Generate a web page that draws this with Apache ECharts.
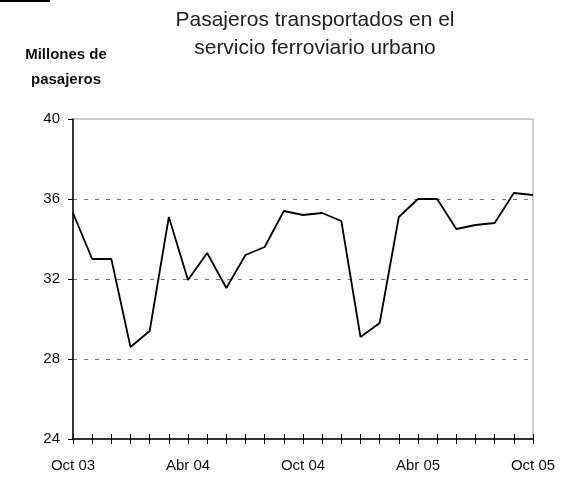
<!DOCTYPE html>
<html>
<head>
<meta charset="utf-8">
<script src="https://cdn.jsdelivr.net/npm/echarts@6/dist/echarts.min.js"></script>
<style>
  html, body { margin: 0; padding: 0; background: #fff; }
  #chart { width: 573px; height: 477px; }
</style>
</head>
<body>
<div id="chart"></div>
<script>
  // 월별 라벨 (Oct 03 → Oct 05)
  const months = [
    'Oct 03', 'Nov 03', 'Dic 03', 'Ene 04', 'Feb 04', 'Mar 04', 'Abr 04',
    'May 04', 'Jun 04', 'Jul 04', 'Ago 04', 'Sep 04', 'Oct 04', 'Nov 04',
    'Dic 04', 'Ene 05', 'Feb 05', 'Mar 05', 'Abr 05', 'May 05', 'Jun 05',
    'Jul 05', 'Ago 05', 'Sep 05', 'Oct 05'
  ];
  // 승객 수 (백만)
  const pasajeros = [
    35.3, 33.0, 33.0, 28.6, 29.4, 35.1, 31.95, 33.3, 31.55, 33.2, 33.6, 35.4, 35.2,
    35.3, 34.9, 29.1, 29.8, 35.1, 36.0, 36.0, 34.5, 34.7, 34.8, 36.3, 36.2
  ];
  const yTicks = [24, 28, 32, 36, 40];

  const FONT = '"Liberation Sans", Arial, sans-serif';
  const chart = echarts.init(document.getElementById('chart'));

  const labelEvery = function (idx) { return idx % 6 === 0; };

  chart.setOption({
    animation: false,
    textStyle: { fontFamily: FONT },
    graphic: [
      { type: 'rect', shape: { x: 0, y: 0, width: 50, height: 2 }, style: { fill: '#000' } },
      {
        type: 'text', x: 315, y: 6,
        style: {
          text: 'Pasajeros transportados en el\nservicio ferroviario urbano',
          textAlign: 'center', font: '21px ' + FONT, fill: '#222', lineHeight: 28
        }
      },
      {
        type: 'text', x: 66, y: 42,
        style: {
          text: 'Millones de\npasajeros', textAlign: 'center',
          font: 'bold 15px ' + FONT, fill: '#111', lineHeight: 25
        }
      }
    ],
    grid: {
      left: 73, right: 40, top: 119, bottom: 38,
      show: true, borderColor: '#999', borderWidth: 1
    },
    xAxis: [
      {
        type: 'category',
        data: months,
        boundaryGap: false,
        axisLine: { lineStyle: { color: '#000', width: 1.5 } },
        axisTick: { show: true, interval: 0, length: 5, lineStyle: { color: '#000' } },
        axisLabel: {
          interval: labelEvery,
          margin: 19, fontSize: 15, color: '#111', fontFamily: FONT
        },
        splitLine: { show: false }
      },
      {
        type: 'category',
        data: months,
        boundaryGap: false,
        position: 'bottom',
        axisLine: { show: false },
        axisTick: { show: true, inside: true, interval: 0, length: 5, lineStyle: { color: '#000' } },
        axisLabel: { show: false },
        splitLine: { show: false }
      }
    ],
    yAxis: {
      type: 'value',
      min: yTicks[0],
      max: yTicks[yTicks.length - 1],
      interval: 4,
      axisLine: { show: true, lineStyle: { color: '#000', width: 1.5 } },
      axisTick: { show: true, length: 5, lineStyle: { color: '#000' } },
      axisLabel: { fontSize: 15, color: '#111', margin: 13, fontFamily: FONT },
      splitLine: {
        show: true, showMinLine: false, showMaxLine: false,
        lineStyle: { color: '#777', type: [4, 7], width: 1 }
      }
    },
    series: [{
      name: 'Pasajeros',
      type: 'line',
      data: pasajeros,
      xAxisIndex: 0,
      symbol: 'none',
      lineStyle: { color: '#000', width: 1.8 }
    }]
  });
</script>
</body>
</html>
